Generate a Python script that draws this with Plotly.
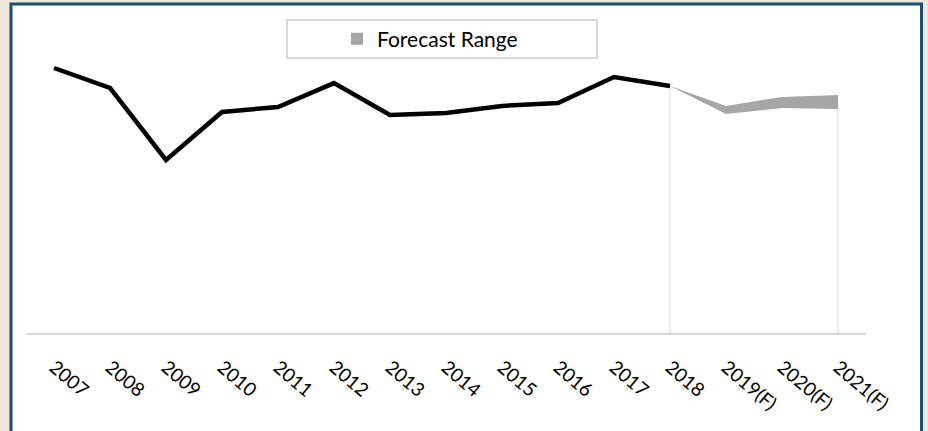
import plotly.graph_objects as go

categories = ["2007", "2008", "2009", "2010", "2011", "2012", "2013", "2014",
              "2015", "2016", "2017", "2018", "2019(F)", "2020(F)", "2021(F)"]
hist_years = ["2007", "2008", "2009", "2010", "2011", "2012", "2013", "2014",
              "2015", "2016", "2017", "2018"]
hist_values = [100.0, 92.5, 65.3, 83.4, 85.3, 94.3, 82.3, 83.0, 85.7, 86.8, 96.6, 93.2]
fc_years = ["2018", "2019(F)", "2020(F)", "2021(F)"]
fc_low = [93.2, 82.6, 84.9, 84.5]
fc_high = [93.2, 85.7, 89.1, 89.8]
drop_years = ["2018", "2021(F)"]

FONT = "Lato"
BEIGE = "#ede6d9"
fig = go.Figure()

# drop lines
for yr in drop_years:
    i = fc_years.index(yr)
    fig.add_trace(go.Scatter(x=[yr, yr], y=[0, fc_low[i]], mode="lines",
                             line=dict(color="#d9d9d9", width=1),
                             showlegend=False, hoverinfo="skip"))

fig.add_trace(go.Scatter(x=fc_years, y=fc_low, mode="lines",
                         line=dict(color="#a6a6a6", width=0),
                         showlegend=False, hoverinfo="skip"))
fig.add_trace(go.Scatter(x=fc_years, y=fc_high, mode="lines", fill="tonexty",
                         fillcolor="#a6a6a6", line=dict(color="#a6a6a6", width=0),
                         showlegend=False))
fig.add_trace(go.Scatter(x=hist_years, y=hist_values, mode="lines",
                         line=dict(color="#000000", width=4.5),
                         showlegend=False))
fig.add_trace(go.Scatter(x=[None], y=[None], mode="markers", name="Forecast Range",
                         marker=dict(symbol="square", size=12, color="#a6a6a6")))

# paper coordinates: plot area x 26..866, y 15..333
def px(x):
    return (x - 26) / 840.0

def py(y):
    return (333 - y) / 318.0

fig.add_shape(type="rect", xref="paper", yref="paper", layer="below",
              x0=px(11), x1=px(921.5), y0=py(450), y1=py(4),
              fillcolor="white", line=dict(color="#1b4f72", width=3))
fig.add_shape(type="rect", xref="paper", yref="paper",
              x0=px(287), x1=px(597), y0=py(58), y1=py(20),
              fillcolor="rgba(0,0,0,0)", line=dict(color="#d9d9d9", width=2))

fig.update_layout(
    width=928, height=431,
    margin=dict(l=26, r=62, t=15, b=98),
    paper_bgcolor=BEIGE,
    plot_bgcolor="white",
    font=dict(family=FONT, color="#000000"),
    legend=dict(x=px(430), y=py(39), xanchor="center", yanchor="middle",
                bgcolor="rgba(0,0,0,0)", borderwidth=0,
                font=dict(size=21, family=FONT)),
    showlegend=True,
)
fig.update_xaxes(type="category", categoryorder="array", categoryarray=categories,
                 range=[-0.5, 14.5], showgrid=False, zeroline=False,
                 showline=True, linecolor="#d9d9d9", linewidth=2,
                 ticks="", tickangle=40, tickfont=dict(size=19, family=FONT),
                 ticklabelstandoff=14)
fig.update_yaxes(range=[0, 120], showgrid=False, zeroline=False, showline=False,
                 showticklabels=False, ticks="")

fig.write_html("out.html",
               config={"displayModeBar": False},
               post_script="document.body.style.margin='0';"
                           "document.body.style.background='" + BEIGE + "';"
                           "document.body.style.overflow='hidden';")
